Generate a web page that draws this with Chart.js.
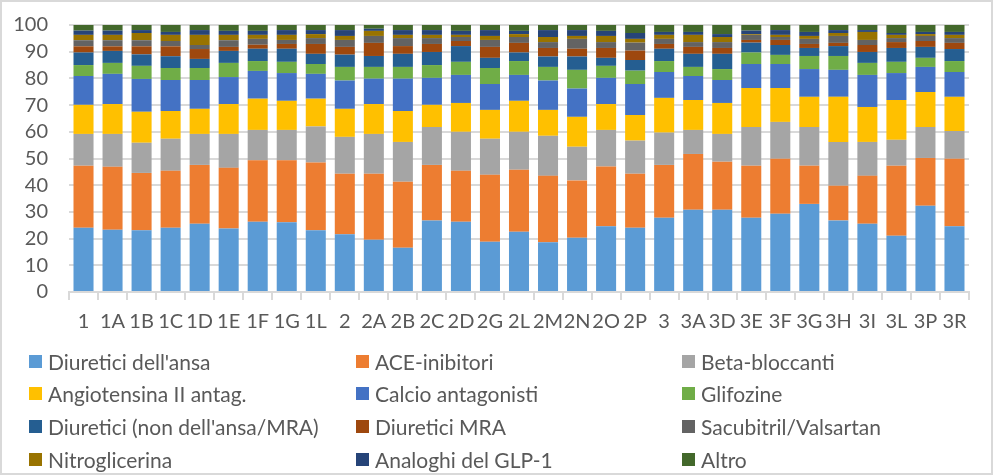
<!DOCTYPE html>
<html>
<head>
<meta charset="utf-8">
<script src="https://cdn.jsdelivr.net/npm/chart.js@4/dist/chart.umd.min.js"></script>
<style>
  html, body { margin: 0; padding: 0; background: #fff; }
  #wrap { position: relative; width: 993px; height: 475px; overflow: hidden; }
  #frame { position: absolute; left: 0; top: 0; width: 993px; height: 475px; box-sizing: border-box;
           border: 2px solid #d9d9d9; pointer-events: none; }
  #legend { position: absolute; left: 0; top: 347px; width: 993px; font-family: Lato, "Liberation Sans", sans-serif;
            font-size: 21px; color: #595959; }
  .item { position: absolute; display: flex; align-items: center; white-space: nowrap; height: 28px; }
  .box { width: 13px; height: 13px; margin-right: 6px; flex: none; }
</style>
</head>
<body>
<div id="wrap">
  <canvas id="c" width="993" height="475"></canvas>
  <div id="legend"></div>
  <div id="frame"></div>
</div>
<script>
const categories = ["1","1A","1B","1C","1D","1E","1F","1G","1L","2","2A","2B","2C","2D","2G","2L","2M","2N","2O","2P","3","3A","3D","3E","3F","3G","3H","3I","3L","3P","3R"];
const yTicks = [0,10,20,30,40,50,60,70,80,90,100];

const diureticiAnsa = [24.1,23.3,23.1,24.1,25.6,23.8,26.3,26.1,23.1,21.6,19.6,16.6,26.8,26.3,18.8,22.6,18.6,20.3,24.6,24.1,27.8,30.8,30.8,27.8,29.3,33.0,26.8,25.6,21.1,32.3,24.6];
const aceInibitori = [23.2,23.6,21.5,21.3,22.0,22.7,23.0,23.2,25.4,22.7,24.7,24.7,20.8,19.1,25.1,23.2,24.9,21.5,22.4,20.2,19.8,20.9,18.0,19.5,20.6,14.3,13.0,17.9,26.2,17.9,25.3];
const betaBloccanti = [11.9,12.3,11.3,12.0,11.6,12.7,11.4,11.4,13.5,13.8,14.9,14.9,14.2,14.6,13.5,14.2,15.0,12.6,13.7,12.4,12.1,9.0,10.4,14.5,13.8,14.5,16.4,12.7,9.7,11.6,10.4];
const angiotensina = [10.9,11.2,11.6,10.4,9.4,11.2,11.7,10.9,10.4,10.5,11.2,11.6,8.3,10.8,10.8,11.6,9.7,11.2,9.7,9.6,13.0,11.2,11.6,14.6,12.7,11.3,16.9,13.1,14.9,13.1,12.8];
const calcioAntagonisti = [10.8,11.3,12.3,11.6,10.8,10.1,10.4,10.4,9.3,10.6,9.5,12.1,10.1,10.5,9.7,9.7,11.0,10.6,9.8,11.6,9.7,9.0,8.6,9.0,9.0,10.4,10.1,12.0,10.1,9.4,9.3];
const glifozine = [4.1,4.1,4.9,4.5,4.5,5.3,3.7,4.2,3.7,5.1,4.4,4.4,4.8,4.9,6.0,5.2,5.1,7.0,4.5,5.0,4.1,3.4,4.1,4.3,3.4,4.9,5.2,4.5,4.2,3.4,4.1];
const diureticiNonAnsa = [4.7,4.5,4.3,4.4,3.4,4.5,4.6,4.9,3.8,4.6,4.1,4.9,4.9,5.9,3.8,3.2,3.9,5.0,3.0,4.0,4.6,4.9,5.7,3.7,3.7,3.0,3.7,4.1,5.2,4.1,4.5];
const diureticiMRA = [2.3,1.7,3.0,3.7,3.7,1.5,1.5,1.8,3.7,2.9,4.9,2.9,3.0,1.9,4.1,3.6,3.2,2.9,3.7,3.5,1.8,2.6,2.2,1.0,1.9,1.5,1.2,2.6,2.2,2.2,2.3];
const sacubitril = [2.3,2.3,2.3,2.0,1.5,2.5,2.2,1.5,2.2,2.6,2.6,3.0,2.2,1.5,2.6,2.2,2.2,3.7,2.2,3.0,1.9,1.8,2.2,1.9,1.1,1.9,2.6,1.9,1.5,1.9,1.8];
const nitroglicerina = [2.0,2.0,2.7,2.3,3.8,2.0,1.5,1.9,1.5,1.5,1.9,1.2,1.2,0.8,1.5,1.1,1.9,1.1,2.3,1.4,1.5,2.7,1.9,0.3,0.8,1.1,1.1,3.0,1.2,0.7,1.2];
const glp1 = [1.6,1.6,1.1,1.1,1.8,1.5,1.5,1.8,1.5,2.2,0.8,1.8,1.8,1.5,2.2,1.2,2.6,2.2,1.9,2.2,1.1,1.1,1.1,1.3,1.8,1.5,1.1,0.7,0.7,0.8,1.1];
const altro = [2.1,2.1,1.9,2.6,1.9,2.2,2.2,1.9,1.9,1.9,1.4,1.9,1.9,2.2,1.9,2.2,1.9,1.9,2.2,3.0,2.6,2.6,3.4,2.1,1.9,2.6,1.9,1.9,3.0,2.6,2.6];

const seriesNames = ["Diuretici dell'ansa","ACE-inibitori","Beta-bloccanti","Angiotensina II antag.","Calcio antagonisti","Glifozine","Diuretici (non dell'ansa/MRA)","Diuretici MRA","Sacubitril/Valsartan","Nitroglicerina","Analoghi del GLP-1","Altro"];
const seriesData = [diureticiAnsa, aceInibitori, betaBloccanti, angiotensina, calcioAntagonisti, glifozine, diureticiNonAnsa, diureticiMRA, sacubitril, nitroglicerina, glp1, altro];
const seriesColors = ["#5B9BD5","#ED7D31","#A5A5A5","#FFC000","#4472C4","#70AD47","#255E91","#9E480E","#636363","#997300","#264478","#43682B"];

const FONT = 'Lato, "Liberation Sans", sans-serif';

const datasets = seriesNames.map((n, i) => ({
  label: n,
  data: seriesData[i],
  backgroundColor: seriesColors[i],
  borderWidth: 0,
  barPercentage: 0.69,
  categoryPercentage: 1.0
}));

const chart = new Chart(document.getElementById('c'), {
  type: 'bar',
  data: { labels: categories, datasets },
  options: {
    responsive: false,
    animation: false,
    layout: { padding: { top: 25, right: 24, left: 0, bottom: 0 } },
    plugins: { legend: { display: false }, tooltip: { enabled: false } },
    scales: {
      x: {
        stacked: true,
        afterFit: s => { s.height = 183; s.paddingLeft = 0; s.paddingRight = 0; },
        grid: { drawOnChartArea: false, drawTicks: true, tickLength: 8, color: '#d9d9d9', lineWidth: 2 },
        border: { color: '#d9d9d9', width: 2 },
        ticks: { autoSkip: false, maxRotation: 0, minRotation: 0, padding: 10, color: '#595959',
                 font: { family: FONT, size: 20 } }
      },
      y: {
        stacked: true,
        min: 0, max: 100,
        afterFit: s => { s.width = 69; s.paddingTop = 0; s.paddingBottom = 0; },
        afterBuildTicks: s => { s.ticks = yTicks.map(v => ({ value: v })); },
        grid: { color: '#d9d9d9', lineWidth: 2, drawTicks: false },
        border: { display: false },
        ticks: { autoSkip: false, padding: 21, color: '#595959', font: { family: FONT, size: 20 } }
      }
    }
  }
});

// HTML legend in three columns, from the chart's datasets
const legend = document.getElementById('legend');
const colX = [29, 356, 682];
chart.data.datasets.forEach((ds, i) => {
  const row = Math.floor(i / 3), col = i % 3;
  const it = document.createElement('div');
  it.className = 'item';
  it.style.left = colX[col] + 'px';
  it.style.top = (row * 32.7) + 'px';
  const b = document.createElement('span');
  b.className = 'box';
  b.style.background = ds.backgroundColor;
  const t = document.createElement('span');
  t.textContent = ds.label;
  it.appendChild(b); it.appendChild(t);
  legend.appendChild(it);
});
</script>
</body>
</html>
